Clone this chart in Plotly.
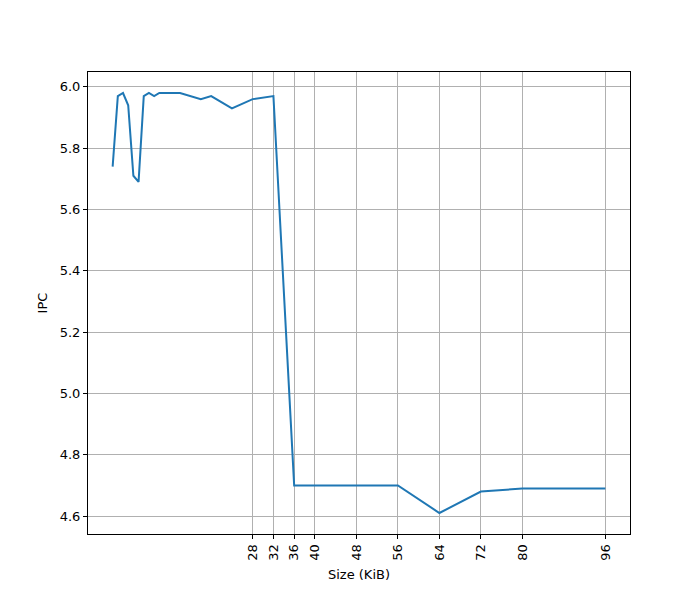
import plotly.graph_objects as go

# cache size (KiB) and measured IPC
size_kib = [1, 2, 3, 4, 5, 6, 7, 8, 9, 10, 14, 18, 20, 24, 28, 32,
            36, 40, 48, 56, 64, 72, 80, 96]
ipc = [5.74, 5.97, 5.98, 5.94, 5.71, 5.69, 5.97, 5.98, 5.97, 5.98, 5.98,
       5.96, 5.97, 5.93, 5.96, 5.97, 4.70, 4.70, 4.70, 4.70, 4.61, 4.68,
       4.69, 4.69]

x_ticks = [28, 32, 36, 40, 48, 56, 64, 72, 80, 96]
y_ticks = [4.6, 4.8, 5.0, 5.2, 5.4, 5.6, 5.8, 6.0]

fig = go.Figure(go.Scatter(x=size_kib, y=ipc, mode='lines',
                           line=dict(color='#1f77b4', width=2)))

axis_style = dict(showline=True, linecolor='black', linewidth=1, mirror=True,
                  ticks='outside', ticklen=4, tickcolor='black',
                  showgrid=True, gridcolor='#b0b0b0', gridwidth=1,
                  zeroline=False, automargin=False)

fig.update_layout(
    width=700, height=600,
    margin=dict(l=80, r=78, t=64, b=74),
    plot_bgcolor='white', paper_bgcolor='white',
    font=dict(family='DejaVu Sans', size=13, color='black'),
    showlegend=False,
    xaxis=dict(range=[-3.75, 100.75], tickvals=x_ticks,
               ticktext=[str(t) for t in x_ticks], tickangle=-90,
               title=dict(text='Size (KiB)', standoff=10, font=dict(size=13)),
               **axis_style),
    yaxis=dict(range=[4.5415, 6.0485], tickvals=y_ticks,
               ticktext=['%.1f' % t for t in y_ticks],
               title=dict(text='IPC', standoff=9, font=dict(size=13)),
               **axis_style),
)

fig.write_html("out.html")
